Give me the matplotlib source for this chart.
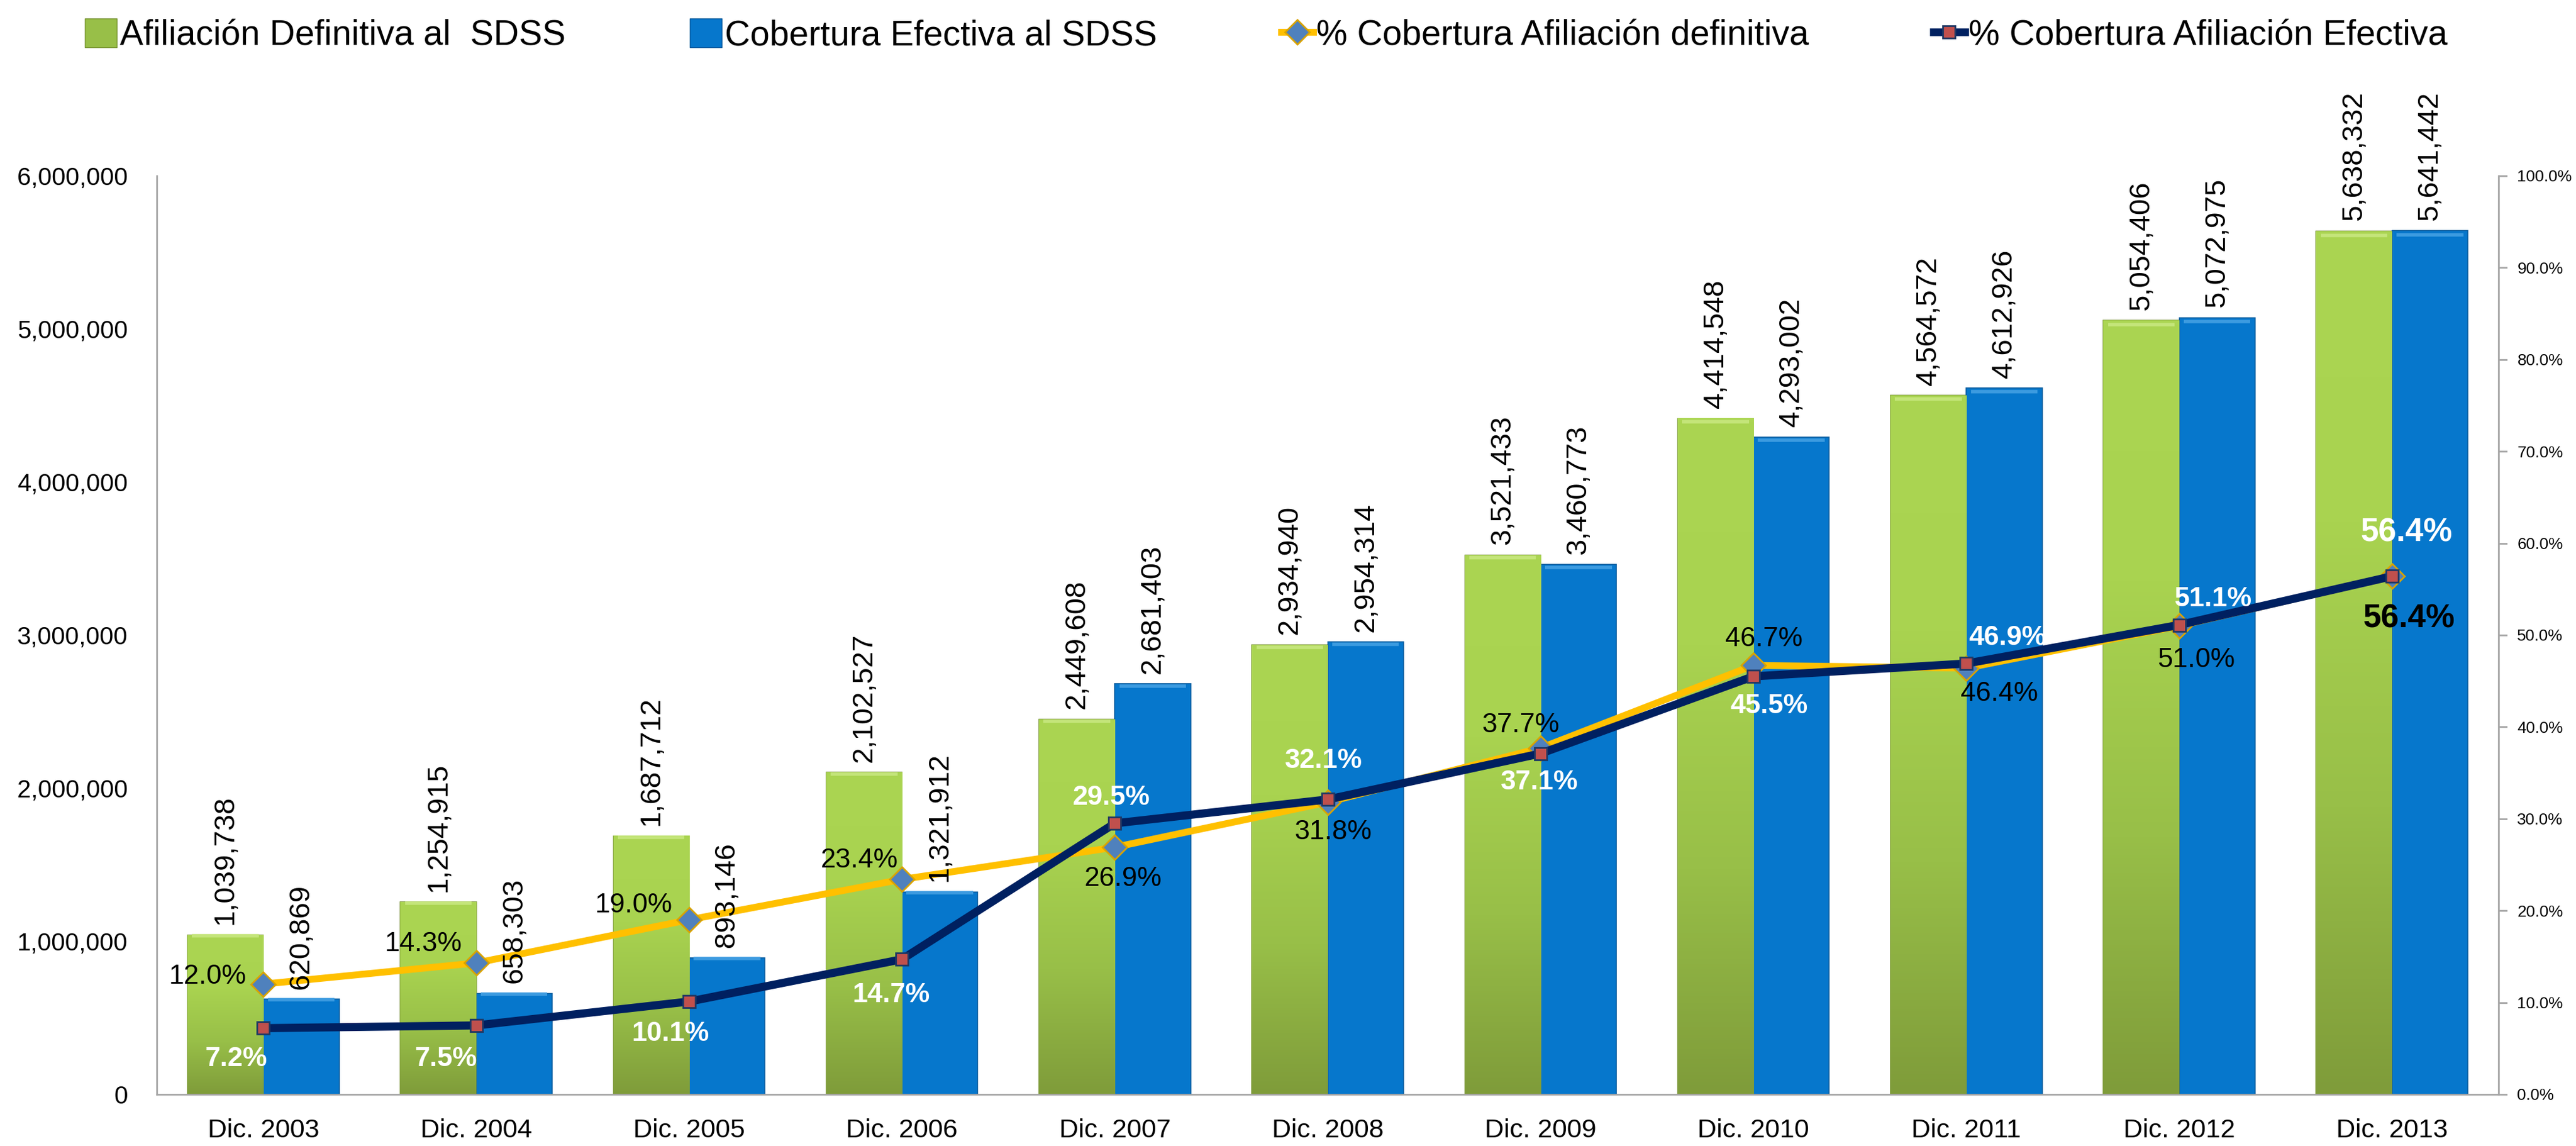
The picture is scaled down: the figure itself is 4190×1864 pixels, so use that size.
import numpy as np
import matplotlib
matplotlib.use('Agg')
import matplotlib.pyplot as plt
from matplotlib.colors import LinearSegmentedColormap
from matplotlib.patches import Patch
from matplotlib.lines import Line2D
from matplotlib.ticker import FuncFormatter

plt.rcParams['font.family'] = ['Liberation Sans', 'DejaVu Sans']

# data
categorias = ['Dic. 2003', 'Dic. 2004', 'Dic. 2005', 'Dic. 2006', 'Dic. 2007', 'Dic. 2008',
              'Dic. 2009', 'Dic. 2010', 'Dic. 2011', 'Dic. 2012', 'Dic. 2013']
afil_def = [1039738, 1254915, 1687712, 2102527, 2449608, 2934940,
            3521433, 4414548, 4564572, 5054406, 5638332]
cob_efec = [620869, 658303, 893146, 1321912, 2681403, 2954314,
            3460773, 4293002, 4612926, 5072975, 5641442]
pct_afil = [12.0, 14.3, 19.0, 23.4, 26.9, 31.8, 37.7, 46.7, 46.4, 51.0, 56.4]
pct_cob = [7.2, 7.5, 10.1, 14.7, 29.5, 32.1, 37.1, 45.5, 46.9, 51.1, 56.4]

labels_leg = ['Afiliación Definitiva al  SDSS', 'Cobertura Efectiva al SDSS',
              '% Cobertura Afiliación definitiva', '% Cobertura Afiliación Efectiva']

# label offsets (points) for the percentage labels
off_afil = [(-65, 9), (-62, 22), (-65, 17), (-50, 22), (10, -37), (6, -35),
            (-23, 27), (12, 31), (39, -30), (20, -40), (20, -50)]
off_cob = [(-32, -36), (-36, -39), (-22, -38), (-13, -42), (-4, 30), (-5, 45),
           (-1, -34), (18, -35), (48, 30), (40, 30), (17, 51)]

verde = '#95bd45'
azul = '#0677cc'
amarillo = '#ffc000'
marino = '#002060'

fig = plt.figure(figsize=(41.9, 18.64), dpi=100)
ax = fig.add_axes([0.0609, 0.0451, 0.909, 0.8015])

x = np.arange(len(categorias))
w = 0.356
bars_g = ax.bar(x - w / 2, afil_def, w, color=verde, edgecolor='#7a9636', linewidth=1.2, zorder=2)
bars_b = ax.bar(x + w / 2, cob_efec, w, color=azul, edgecolor='#0a5c9e', linewidth=1.2, zorder=2)

# vertical gradient on green bars
cmap_g = LinearSegmentedColormap.from_list('g', ['#7f9c3a', '#98bf48', '#a9d350', '#abd552'])
grad = np.linspace(0, 1, 256).reshape(-1, 1)
for b in bars_g:
    x0, h, bw = b.get_x(), b.get_height(), b.get_width()
    ax.imshow(grad, extent=[x0, x0 + bw, 0, h], origin='lower', aspect='auto',
              cmap=cmap_g, zorder=2.5, interpolation='bilinear')
    ax.plot([x0 + bw * 0.06, x0 + bw * 0.94], [h * 0.995, h * 0.995], color='#c4e57a', lw=4, zorder=2.6,
            solid_capstyle='butt')
for b in bars_b:
    x0, h, bw = b.get_x(), b.get_height(), b.get_width()
    ax.plot([x0 + bw * 0.06, x0 + bw * 0.94], [h * 0.995, h * 0.995], color='#3c9be0', lw=4, zorder=2.6,
            solid_capstyle='butt')

ax.set_xlim(-0.5, len(categorias) - 0.5)
ax.set_ylim(0, 6000000)
ax.set_yticks(np.arange(0, 6000001, 1000000))
ax.yaxis.set_major_formatter(FuncFormatter(lambda v, p: f'{int(v):,}'))
ax.set_xticks(x)
ax.set_xticklabels(categorias)
ax.tick_params(axis='y', length=0, pad=34, labelsize=29)
ax.tick_params(axis='x', length=0, pad=28, labelsize=31)
for s in ['top', 'right']:
    ax.spines[s].set_visible(False)
ax.spines['left'].set_color('#a6a6a6')
ax.spines['bottom'].set_color('#a6a6a6')
ax.spines['left'].set_linewidth(2)
ax.spines['bottom'].set_linewidth(2)

ax2 = ax.twinx()
ax2.set_ylim(0, 100)
ax2.set_yticks(np.arange(0, 101, 10))
ax2.yaxis.set_major_formatter(FuncFormatter(lambda v, p: f'{v:.1f}%'))
ax2.tick_params(axis='y', length=10, width=2, color='#a6a6a6', pad=12, labelsize=19)
for s in ['top', 'left', 'bottom']:
    ax2.spines[s].set_visible(False)
ax2.spines['right'].set_color('#a6a6a6')
ax2.spines['right'].set_linewidth(2)

ax2.plot(x, pct_afil, color=amarillo, lw=8, marker='D', ms=20, mfc='#4f81bd',
         mec='#d9a300', mew=2, zorder=3)
ax2.plot(x, pct_cob, color=marino, lw=9.5, marker='s', ms=14, mfc='#c0504d',
         mec='#1f3864', mew=2, zorder=4)

# bar value labels
for xi, v in zip(x, afil_def):
    ax2.annotate(f'{v:,}', xy=(xi - w / 2, v), xycoords=ax.transData, xytext=(0, 12),
                 textcoords='offset points', rotation=90, ha='center', va='bottom',
                 fontsize=34, zorder=6)
for xi, v in zip(x, cob_efec):
    ax2.annotate(f'{v:,}', xy=(xi + w / 2, v), xycoords=ax.transData, xytext=(0, 12),
                 textcoords='offset points', rotation=90, ha='center', va='bottom',
                 fontsize=34, zorder=6)

# percentage labels
n = len(categorias)
for i, (xi, v) in enumerate(zip(x, pct_afil)):
    last = i == n - 1
    ax2.annotate(f'{v:.1f}%', xy=(xi, v), xytext=off_afil[i], textcoords='offset points',
                 ha='center', va='center', fontsize=38 if last else 32,
                 fontweight='bold' if last else 'normal', color='black', zorder=7)
for i, (xi, v) in enumerate(zip(x, pct_cob)):
    last = i == n - 1
    ax2.annotate(f'{v:.1f}%', xy=(xi, v), xytext=off_cob[i], textcoords='offset points',
                 ha='center', va='center', fontsize=38 if last else 32,
                 fontweight='bold', color='white', zorder=7)

handles = [
    Patch(facecolor='#98bf48', edgecolor='#7a9636'),
    Patch(facecolor=azul, edgecolor='#0a5c9e'),
    Line2D([], [], color=amarillo, lw=8, marker='D', ms=20, mfc='#4f81bd', mec='#d9a300', mew=2),
    Line2D([], [], color=marino, lw=9, marker='s', ms=14, mfc='#c0504d', mec='#1f3864', mew=2),
]
fig.legend(handles, labels_leg, loc='center left', bbox_to_anchor=(0.033, 0.969), ncol=4,
           frameon=False, fontsize=41, handlelength=0.9, handletextpad=0.1,
           columnspacing=3.55, handleheight=0.9, borderpad=0, borderaxespad=0)

fig.savefig('out.png', dpi=100)
